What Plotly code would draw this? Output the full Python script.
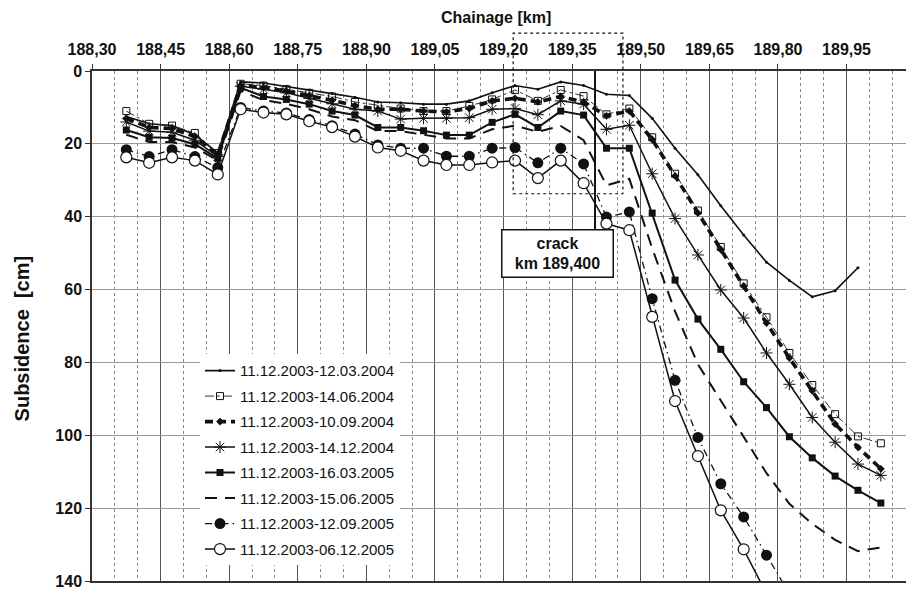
import plotly.graph_objects as go

# Measurement stations along the line [km]
chainage = [188.375, 188.425, 188.475, 188.525, 188.575, 188.625, 188.675, 188.725,
            188.775, 188.825, 188.875, 188.925, 188.975, 189.025, 189.075, 189.125,
            189.175, 189.225, 189.275, 189.325, 189.375, 189.425, 189.475, 189.525,
            189.575, 189.625, 189.675, 189.725, 189.775, 189.825, 189.875, 189.925,
            189.975, 190.025]

# Cumulative subsidence [cm] relative to the 11.12.2003 baseline
s_2004_03 = [12.5, 14.5, 15.0, 17.5, 22.5, 3.0, 3.3, 4.2, 5.2, 6.2, 7.2,
             8.5, 8.7, 9.1, 9.1, 8.2, 6.0, 4.0, 5.0, 3.0, 4.0, 6.4, 6.7,
             13.0, 21.2, 28.5, 37.0, 45.0, 52.5, 57.5, 62.0, 60.3, 54.0, None]
s_2004_06 = [11.0, 14.5, 15.0, 17.0, 22.5, 3.5, 4.0, 5.0, 6.0, 7.0, 8.5,
             9.5, 10.3, 11.0, 11.0, 9.6, 7.8, 5.2, 8.2, 5.2, 6.9, 11.9, 10.3,
             18.2, 28.2, 38.3, 48.3, 58.3, 67.6, 77.4, 86.2, 94.2, 100.3, 102.2]
s_2004_09 = [13.0, 15.5, 15.8, 18.0, 23.0, 4.0, 4.5, 5.5, 6.8, 8.0, 9.5,
             10.5, 10.5, 11.0, 11.2, 10.3, 8.2, 7.5, 8.5, 7.0, 8.5, 12.3, 11.0,
             18.8, 28.8, 39.0, 49.0, 59.0, 69.2, 78.8, 87.8, 96.9, 103.3, 109.2]
s_2004_12 = [14.0, 16.5, 16.8, 19.0, 23.5, 4.2, 5.0, 6.0, 7.5, 9.0, 10.5,
             11.0, 13.2, 13.0, 13.0, 12.8, 10.5, 10.3, 12.0, 8.2, 9.1, 16.0, 14.9,
             28.2, 40.5, 50.5, 60.1, 67.8, 77.4, 86.0, 95.1, 101.9, 107.9, 111.0]
s_2005_03 = [16.2, 18.2, 18.4, 20.1, 24.0, 4.6, 7.0, 7.8, 9.1, 11.0, 12.1,
             15.5, 15.5, 16.4, 17.6, 17.6, 14.1, 11.9, 15.5, 11.0, 12.1, 21.2, 21.2,
             39.0, 57.4, 68.1, 76.4, 85.3, 92.4, 100.4, 106.2, 111.2, 115.1, 118.6]
s_2005_06 = [17.5, 19.5, 19.5, 21.0, 24.5, 5.5, 8.0, 9.0, 10.5, 12.5, 13.5,
             16.5, 16.5, 17.5, 18.5, 18.5, 16.0, 15.0, 16.7, 15.1, 19.0, 31.4, 29.6,
             48.7, 66.0, 80.5, 90.5, 100.5, 110.4, 118.8, 124.3, 128.7, 131.8, 130.8]
s_2005_09 = [21.6, 23.5, 21.6, 23.5, 26.5, 10.0, 11.0, 11.5, 13.3, 15.0, 17.3,
             20.3, 21.2, 21.2, 23.4, 23.4, 21.2, 21.0, 25.2, 21.2, 25.5, 40.1, 38.7,
             62.5, 84.9, 100.6, 113.3, 122.4, 132.9, 143.5, None, None, None, None]
s_2005_12 = [23.7, 25.2, 23.7, 24.6, 28.4, 10.5, 11.4, 11.9, 13.8, 15.4, 18.0,
             21.0, 21.9, 24.6, 25.8, 25.8, 25.1, 24.6, 29.4, 24.6, 30.8, 41.9, 43.7,
             67.5, 90.6, 105.7, 120.6, 131.3, 143.5, None, None, None, None, None]

series_names = ["11.12.2003-12.03.2004", "11.12.2003-14.06.2004", "11.12.2003-10.09.2004",
                "11.12.2003-14.12.2004", "11.12.2003-16.03.2005", "11.12.2003-15.06.2005",
                "11.12.2003-12.09.2005", "11.12.2003-06.12.2005"]
series_values = [s_2004_03, s_2004_06, s_2004_09, s_2004_12,
                 s_2005_03, s_2005_06, s_2005_09, s_2005_12]

# Axis ticks
x_tick_vals = [188.30, 188.45, 188.60, 188.75, 188.90, 189.05, 189.20,
               189.35, 189.50, 189.65, 189.80, 189.95]
x_tick_text = ["188,30", "188,45", "188,60", "188,75", "188,90", "189,05", "189,20",
               "189,35", "189,50", "189,65", "189,80", "189,95"]
y_tick_vals = [0, 20, 40, 60, 80, 100, 120, 140]

# Crack location and the inspected zone around it
crack_km = 189.40
crack_label = "crack<br>km 189,400"
zone_km = (189.221, 189.461)
zone_depth = 33.7

X_RANGE = [188.30, 190.08]
Y_RANGE = [140, 0]

BLACK = "#111111"
styles = [
    dict(mode="lines+markers", line=dict(color=BLACK, width=1.6, dash="solid"),
         marker=dict(symbol="circle", size=3, color=BLACK)),
    dict(mode="lines+markers", line=dict(color="#333333", width=1, dash="dashdot"),
         marker=dict(symbol="square-open", size=7, color=BLACK, line=dict(width=1, color=BLACK))),
    dict(mode="lines+markers", line=dict(color=BLACK, width=3.6, dash="8px,5px"),
         marker=dict(symbol="diamond", size=6, color=BLACK)),
    dict(mode="lines+markers", line=dict(color=BLACK, width=1.5, dash="solid"),
         marker=dict(symbol="asterisk-open", size=10, color=BLACK, line=dict(width=1, color=BLACK))),
    dict(mode="lines+markers", line=dict(color=BLACK, width=2, dash="solid"),
         marker=dict(symbol="square", size=7, color=BLACK)),
    dict(mode="lines", line=dict(color=BLACK, width=2, dash="12px,8px")),
    dict(mode="lines+markers", line=dict(color=BLACK, width=1.3, dash="7px,4px,1.5px,4px"),
         marker=dict(symbol="circle", size=11, color=BLACK)),
    dict(mode="lines+markers", line=dict(color=BLACK, width=1.5, dash="solid"),
         marker=dict(symbol="circle", size=11, color="white", line=dict(width=1.2, color=BLACK))),
]

fig = go.Figure()
for i, (name, vals, st) in enumerate(zip(series_names, series_values, styles)):
    fig.add_trace(go.Scatter(x=chainage, y=vals, name=name, legendgroup=f"g{i}",
                             connectgaps=False, **st))

FONT = "Liberation Sans, Arial, sans-serif"

fig.update_layout(
    width=906, height=590,
    margin=dict(l=92, r=0, t=71, b=6),
    paper_bgcolor="white", plot_bgcolor="white",
    font=dict(family=FONT, size=16, color=BLACK),
    showlegend=True,
    legend=dict(x=(200 - 92) / 814, y=(584 - 356) / 513, xanchor="left", yanchor="top",
                bgcolor="white", borderwidth=0, tracegroupgap=3,
                font=dict(family=FONT, size=15, color=BLACK)),
    xaxis=dict(side="top", range=X_RANGE, tickmode="array", tickvals=x_tick_vals,
               ticktext=x_tick_text, ticks="outside", ticklen=5, tickcolor="#333333",
               tickfont=dict(family=FONT, size=16, weight="bold", color=BLACK),
               ticklabelstandoff=3, ticklabeloverflow="allow",
               showline=True, linecolor="#333333", linewidth=1.5, mirror=True,
               showgrid=True, gridcolor="#555555", gridwidth=1,
               minor=dict(dtick=0.05, tick0=188.30, showgrid=True, gridcolor="#8a8a8a",
                          griddash="dot", gridwidth=1, ticks=""),
               zeroline=False),
    yaxis=dict(range=Y_RANGE, tickmode="array", tickvals=y_tick_vals, ticks="outside",
               ticklen=5, tickcolor="#333333", ticklabeloverflow="allow",
               tickfont=dict(family=FONT, size=16, weight="bold", color=BLACK),
               showline=True, linecolor="#333333", linewidth=1.5,
               showgrid=True, gridcolor="#9a9a9a", gridwidth=1, zeroline=False),
)

# Axis titles
fig.add_annotation(text="Chainage [km]", xref="paper", yref="paper",
                   x=(496 - 92) / 814, y=(584 - 17) / 513, xanchor="center", yanchor="middle",
                   showarrow=False,
                   font=dict(family=FONT, size=16, weight="bold", color=BLACK))
fig.add_annotation(text="Subsidence  [cm]", xref="paper", yref="paper",
                   x=(22 - 92) / 814, y=(584 - 340) / 513, xanchor="center", yanchor="middle",
                   textangle=-90, showarrow=False,
                   font=dict(family=FONT, size=20, weight="bold", color=BLACK))


def to_paper_x(km):
    return (km - X_RANGE[0]) / (X_RANGE[1] - X_RANGE[0])


def to_paper_y(cm):
    return (Y_RANGE[0] - cm) / (Y_RANGE[0] - Y_RANGE[1])


# Dashed zone box (its top edge sits up among the chainage labels)
fig.add_shape(type="rect", xref="paper", yref="paper",
              x0=to_paper_x(zone_km[0]), x1=to_paper_x(zone_km[1]),
              y0=to_paper_y(zone_depth), y1=(584 - 33) / 513,
              line=dict(color=BLACK, width=1.2, dash="3px,3px"), fillcolor="rgba(0,0,0,0)")

# Crack marker line and label box
label_cm = 50.1
fig.add_shape(type="line", xref="x", yref="y", x0=crack_km, x1=crack_km, y0=0, y1=43.4,
              line=dict(color=BLACK, width=2))
fig.add_annotation(text=crack_label, xref="x", yref="y", x=189.318, y=label_cm,
                   showarrow=False, bgcolor="white", bordercolor=BLACK, borderwidth=1.5,
                   width=108, height=44, borderpad=1,
                   font=dict(family=FONT, size=16, weight="bold", color=BLACK))

fig.write_html("out.html")
